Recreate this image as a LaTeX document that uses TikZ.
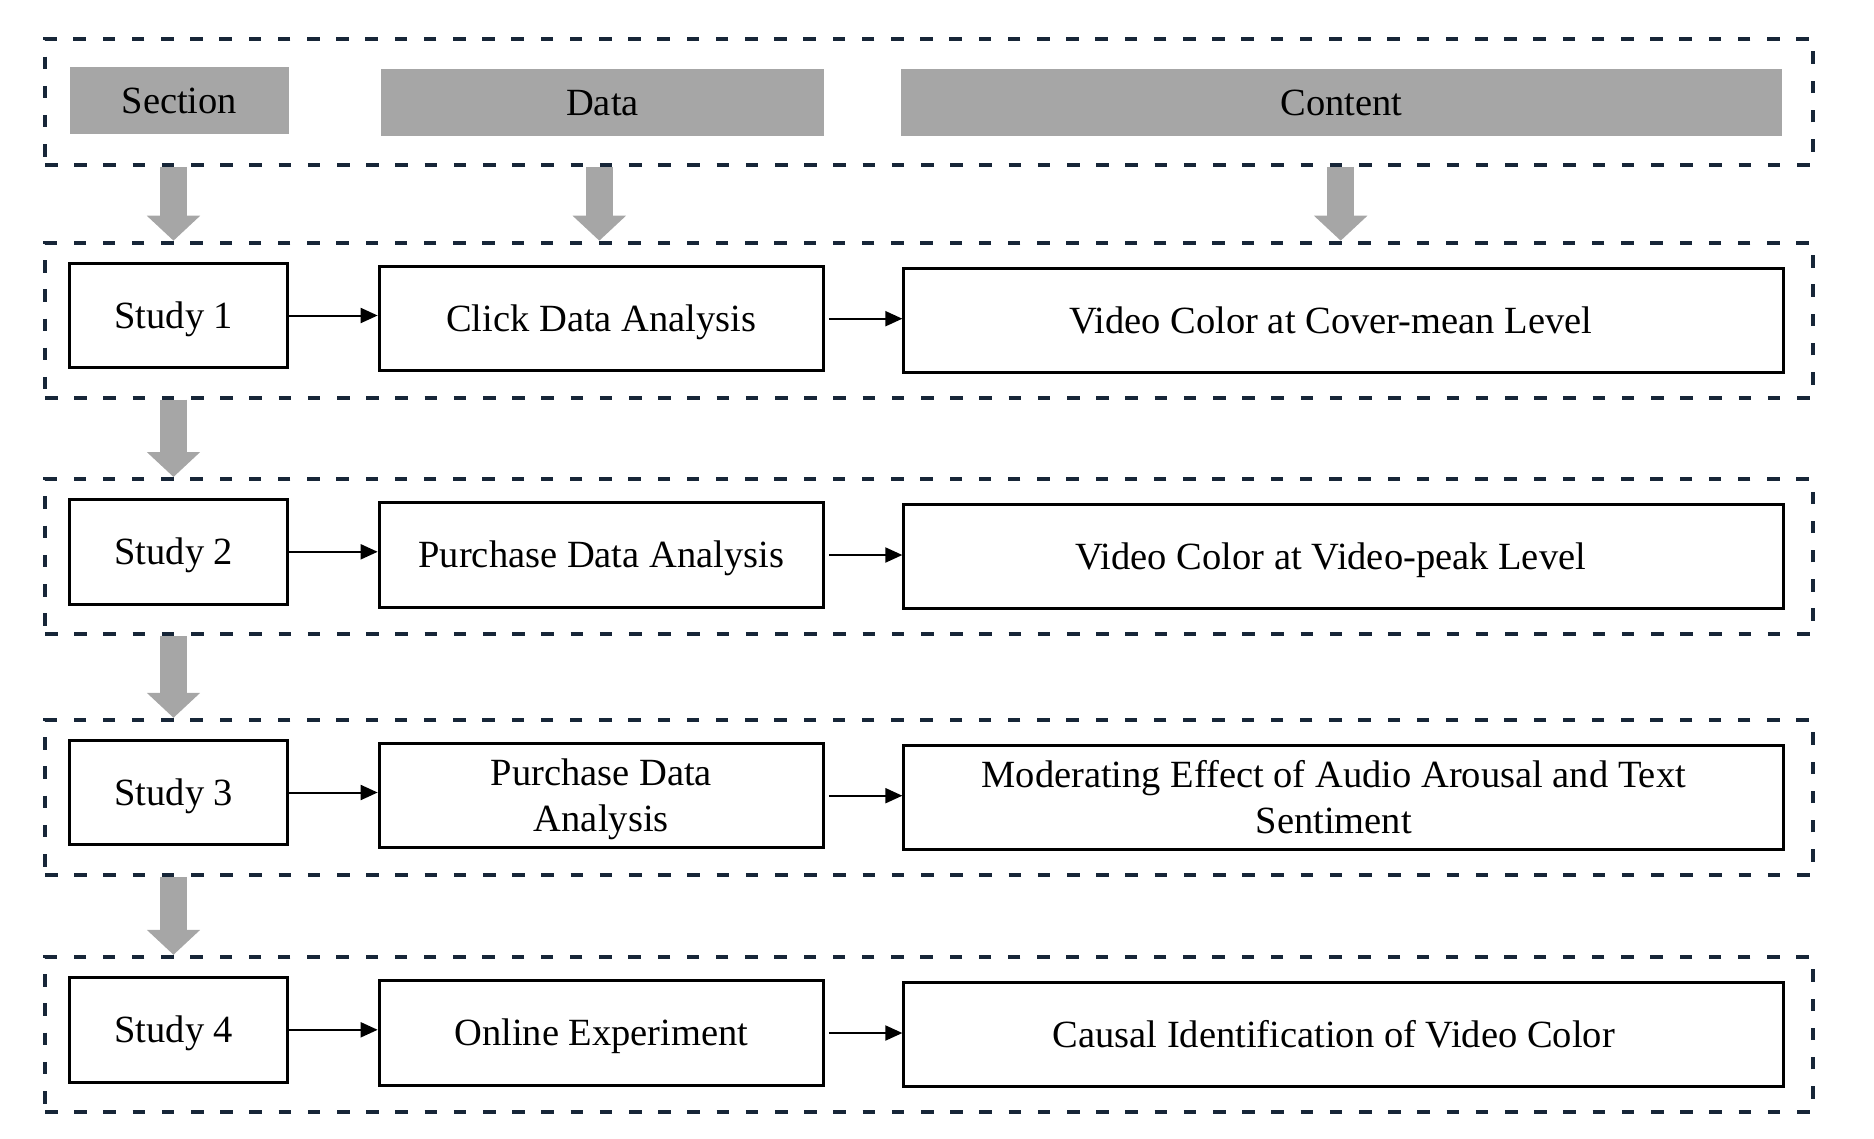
\documentclass[tikz,border=0pt]{standalone}
\usepackage{fontspec}
\setmainfont{Liberation Serif}
\usepackage{tikz}
\usetikzlibrary{positioning, shapes}
\usetikzlibrary{arrows.meta, backgrounds}
\definecolor{framecol}{RGB}{23,38,56}
\definecolor{headgray}{RGB}{166,166,166}

\begin{document}
\begin{tikzpicture}[x=1pt, y=-1pt]
                \tikzset{frame/.style = {draw=framecol, line width=4pt, dash pattern=on 12.5pt off 16.7pt, minimum width=1768pt, minimum height=155pt, inner sep=0pt}}
                \tikzset{head/.style = {fill=headgray, inner sep=0pt, minimum height=67pt, text height=25.5pt, text depth=0pt, font=\fontsize{38.5}{46}\selectfont}}
                \tikzset{box/.style = {draw, line width=3pt, inner sep=0pt, minimum height=104.5pt, text height=25.5pt, text depth=0pt, align=center, font=\fontsize{38.5}{46}\selectfont}}
                \tikzset{twolines/.style = {text height=71.5pt}}
                \tikzset{smalledge/.style = {line width=2pt, -{Triangle[length=17pt,width=15pt]}}}
                \tikzset{bigedge/.style = {headgray, line width=26.7pt, -{Triangle[length=25pt,width=52pt]}}}

                \useasboundingbox (0,0) rectangle (1874,1138);

                % frames
                \node[frame, minimum height=125.7pt] (g0) at (929,101.9) {};
                \node[frame] (g1) at (929,320.2) {};
                \node[frame] (g2) at (929,556.5) {};
                \node[frame] (g3) at (929,797.3) {};
                \node[frame] (g4) at (929,1034.3) {};

                % headers
                \node[head, minimum width=218.7pt] (hsec) at (179.4,100.9) {Section};
                \node[head, minimum width=443pt] (hdat) at (602.5,102.3) {Data};
                \node[head, minimum width=881pt] (hcon) at (1341.5,102.3) {Content};

                \coordinate (colS) at (173.5,0);
                \coordinate (colD) at (599.3,0);
                \coordinate (colC) at (1340.7,0);

                % study 1
                \node[box, minimum width=218pt] (s1) at (178.8,315.5) {Study 1\hspace*{10pt}};
                \node[box, minimum width=444.3pt] (d1) at (601.3,318.7) {Click Data Analysis};
                \node[box, minimum width=879.7pt] (c1) at (1343.7,320.4) {Video Color at Cover-mean Level\hspace*{26pt}};

                % study 2
                \node[box, minimum width=218pt] (s2) at (178.8,551.8) {Study 2\hspace*{10pt}};
                \node[box, minimum width=444.3pt] (d2) at (601.3,555) {Purchase Data Analysis};
                \node[box, minimum width=879.7pt] (c2) at (1343.7,556.7) {Video Color at Video-peak Level\hspace*{26pt}};

                % study 3
                \node[box, minimum width=218pt] (s3) at (178.8,792.5) {Study 3\hspace*{10pt}};
                \node[box, twolines, minimum width=444.3pt] (d3) at (601.3,795.7) {Purchase Data\\Analysis};
                \node[box, twolines, minimum width=879.7pt] (c3) at (1343.7,797.4) {Moderating Effect of Audio Arousal and Text\hspace*{20pt}\\Sentiment\hspace*{20pt}};

                % study 4
                \node[box, minimum width=218pt] (s4) at (178.8,1029.8) {Study 4\hspace*{10pt}};
                \node[box, minimum width=444.3pt] (d4) at (601.3,1033) {Online Experiment};
                \node[box, minimum width=879.7pt] (c4) at (1343.7,1034.7) {Causal Identification of Video Color\hspace*{20pt}};

                % arrows
                \draw[smalledge] (s1.east) -- (s1.east -| d1.west);
                \draw[smalledge] (s2.east) -- (s2.east -| d2.west);
                \draw[smalledge] (s3.east) -- (s3.east -| d3.west);
                \draw[smalledge] (s4.east) -- (s4.east -| d4.west);

                \draw[smalledge, shorten <=4pt] (d1.east) -- (d1.east -| c1.west);
                \draw[smalledge, shorten <=4pt] (d2.east) -- (d2.east -| c2.west);
                \draw[smalledge, shorten <=4pt] (d3.east) -- (d3.east -| c3.west);
                \draw[smalledge, shorten <=4pt] (d4.east) -- (d4.east -| c4.west);

                % gray arrows
                \begin{scope}[on background layer]
                \draw[bigedge] (g0.south -| colS) -- (g1.north -| colS);
                \draw[bigedge] (g0.south -| colD) -- (g1.north -| colD);
                \draw[bigedge] (g0.south -| colC) -- (g1.north -| colC);
                \draw[bigedge] (g1.south -| colS) -- (g2.north -| colS);
                \draw[bigedge] (g2.south -| colS) -- (g3.north -| colS);
                \draw[bigedge] (g3.south -| colS) -- (g4.north -| colS);
                \end{scope}

                \end{tikzpicture}
\end{document}
